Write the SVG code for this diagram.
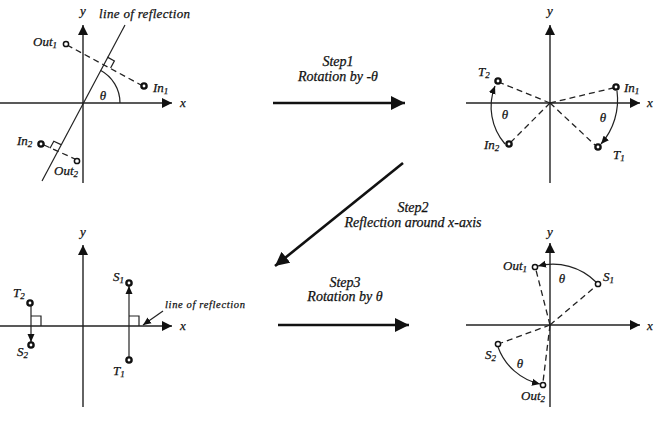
<svg xmlns="http://www.w3.org/2000/svg" width="668" height="424" viewBox="0 0 668 424" font-family="'Liberation Serif', 'DejaVu Serif', serif">
<style>
  text { font-family: 'Liberation Serif', 'DejaVu Serif', serif; font-style: italic; fill: #111; stroke: #111; stroke-width: 0.25; }
  .lbl { font-size: 13px; }
  .stp { font-size: 14px; }
  .sub { font-size: 9px; }
  .ax { stroke: #222; stroke-width: 1.4; fill: none; }
  .dash { stroke: #222; stroke-width: 1.3; stroke-dasharray: 6 4; fill: none; }
  .thin { stroke: #222; stroke-width: 1.2; fill: none; }
  .pt { fill: #fff; stroke: #111; stroke-width: 1.5; }
  .ptb { fill: #fff; stroke: #111; stroke-width: 2.4; }
  .step { stroke: #111; stroke-width: 2.6; fill: none; }
</style>
<defs>
  <marker id="axh" markerUnits="userSpaceOnUse" markerWidth="12" markerHeight="10" refX="10" refY="5" orient="auto">
    <path d="M0,0 L10,5 L0,10 Z" fill="#111"/>
  </marker>
  <marker id="sm" markerUnits="userSpaceOnUse" markerWidth="9" markerHeight="8" refX="8" refY="4" orient="auto">
    <path d="M0,0.5 L8,4 L0,7.5 Z" fill="#111"/>
  </marker>
  <marker id="big" markerUnits="userSpaceOnUse" markerWidth="16" markerHeight="14" refX="14" refY="7" orient="auto">
    <path d="M0,0 L14,7 L0,14 Z" fill="#111"/>
  </marker>
</defs>

<!-- Panel 1: original -->
<g id="panel1">
  <line class="ax" x1="0" y1="103" x2="172" y2="103" marker-end="url(#axh)"/>
  <line class="ax" x1="83" y1="183" x2="83" y2="25" marker-end="url(#axh)"/>
  <text class="lbl" x="83" y="15" text-anchor="middle">y</text>
  <text class="lbl" x="180" y="107">x</text>
  <line class="thin" x1="42" y1="181" x2="125" y2="25"/>
  <text x="99" y="18" font-size="13" textLength="91">line of reflection</text>
  <line class="dash" x1="67" y1="45" x2="141" y2="85"/>
  <path class="thin" d="M107.4,57.1 L114.4,60.9 L110.6,68"/>
  <line class="dash" x1="44" y1="145" x2="75" y2="159"/>
  <path class="thin" d="M61,144.6 L53.8,141.2 L50,148.3"/>
  <path class="thin" d="M120,103 A37,37 0 0 0 100.4,70.3"/>
  <text class="lbl" x="103" y="100" text-anchor="middle">θ</text>
  <circle class="pt" cx="66" cy="44" r="2.6"/>
  <circle class="ptb" cx="144" cy="86" r="2.6"/>
  <circle class="ptb" cx="41" cy="144" r="2.6"/>
  <circle class="pt" cx="77" cy="161" r="2.6"/>
  <text class="lbl" x="33" y="46">Out<tspan class="sub" dy="2">1</tspan></text>
  <text class="lbl" x="153" y="92">In<tspan class="sub" dy="2">1</tspan></text>
  <text class="lbl" x="17" y="145">In<tspan class="sub" dy="2">2</tspan></text>
  <text class="lbl" x="54" y="175">Out<tspan class="sub" dy="2">2</tspan></text>
</g>

<!-- Panel 2: after rotation -->
<g id="panel2">
  <line class="ax" x1="466" y1="103" x2="640" y2="103" marker-end="url(#axh)"/>
  <line class="ax" x1="550" y1="183" x2="550" y2="25" marker-end="url(#axh)"/>
  <text class="lbl" x="550" y="15" text-anchor="middle">y</text>
  <text class="lbl" x="647" y="107">x</text>
  <line class="dash" x1="550" y1="103" x2="613" y2="88"/>
  <line class="dash" x1="550" y1="103" x2="595" y2="145"/>
  <line class="dash" x1="550" y1="103" x2="501" y2="83"/>
  <line class="dash" x1="550" y1="103" x2="511" y2="142"/>
  <path class="thin" d="M617,91 A67,67 0 0 1 601,144" marker-end="url(#sm)"/>
  <path class="thin" d="M505,144 A57,57 0 0 1 495,86" marker-end="url(#sm)"/>
  <circle class="ptb" cx="616" cy="87" r="2.6"/>
  <circle class="ptb" cx="598" cy="147" r="2.6"/>
  <circle class="ptb" cx="498" cy="81" r="2.6"/>
  <circle class="ptb" cx="509" cy="144" r="2.6"/>
  <text class="lbl" x="624" y="92">In<tspan class="sub" dy="2">1</tspan></text>
  <text class="lbl" x="613" y="159">T<tspan class="sub" dy="2">1</tspan></text>
  <text class="lbl" x="478" y="76">T<tspan class="sub" dy="2">2</tspan></text>
  <text class="lbl" x="484" y="149">In<tspan class="sub" dy="2">2</tspan></text>
  <text class="lbl" x="603" y="122" text-anchor="middle">θ</text>
  <text class="lbl" x="505" y="119" text-anchor="middle">θ</text>
</g>

<!-- Panel 3: after reflection -->
<g id="panel3">
  <line class="ax" x1="0" y1="326" x2="172" y2="326" marker-end="url(#axh)"/>
  <line class="ax" x1="83" y1="407" x2="83" y2="245" marker-end="url(#axh)"/>
  <text class="lbl" x="83" y="236" text-anchor="middle">y</text>
  <text class="lbl" x="180" y="330">x</text>
  <line class="thin" x1="129" y1="357" x2="129" y2="286" marker-end="url(#sm)"/>
  <path class="thin" d="M129,316 L139,316 L139,326"/>
  <line class="thin" x1="31" y1="306" x2="31" y2="342" marker-end="url(#sm)"/>
  <path class="thin" d="M31,316 L41,316 L41,326"/>
  <circle class="ptb" cx="129" cy="283" r="2.6"/>
  <circle class="ptb" cx="129" cy="360" r="2.6"/>
  <circle class="ptb" cx="30" cy="303" r="2.6"/>
  <circle class="ptb" cx="31" cy="345" r="2.6"/>
  <text class="lbl" x="113" y="281">S<tspan class="sub" dy="2">1</tspan></text>
  <text class="lbl" x="113" y="375">T<tspan class="sub" dy="2">1</tspan></text>
  <text class="lbl" x="13" y="297">T<tspan class="sub" dy="2">2</tspan></text>
  <text class="lbl" x="17" y="356">S<tspan class="sub" dy="2">2</tspan></text>
  <line class="thin" x1="163" y1="311" x2="143" y2="325" marker-end="url(#sm)"/>
  <text x="165" y="308" font-size="10.5" textLength="80">line of reflection</text>
</g>

<!-- Panel 4: result -->
<g id="panel4">
  <line class="ax" x1="466" y1="325" x2="640" y2="325" marker-end="url(#axh)"/>
  <line class="ax" x1="550" y1="407" x2="550" y2="243" marker-end="url(#axh)"/>
  <text class="lbl" x="550" y="236" text-anchor="middle">y</text>
  <text class="lbl" x="647" y="330">x</text>
  <line class="dash" x1="550" y1="325" x2="596" y2="286"/>
  <line class="dash" x1="550" y1="325" x2="536" y2="270"/>
  <line class="dash" x1="550" y1="325" x2="501" y2="343"/>
  <line class="dash" x1="550" y1="325" x2="543" y2="382"/>
  <path class="thin" d="M596,282 A61,61 0 0 0 538,266" marker-end="url(#sm)"/>
  <path class="thin" d="M498,347 A58,58 0 0 0 540,384" marker-end="url(#sm)"/>
  <circle class="pt" cx="598" cy="284" r="2.6"/>
  <circle class="pt" cx="535" cy="267" r="2.6"/>
  <circle class="pt" cx="498" cy="344" r="2.6"/>
  <circle class="pt" cx="543" cy="385" r="2.6"/>
  <text class="lbl" x="503" y="270">Out<tspan class="sub" dy="2">1</tspan></text>
  <text class="lbl" x="603" y="281">S<tspan class="sub" dy="2">1</tspan></text>
  <text class="lbl" x="485" y="359">S<tspan class="sub" dy="2">2</tspan></text>
  <text class="lbl" x="521" y="400">Out<tspan class="sub" dy="2">2</tspan></text>
  <text class="lbl" x="562" y="283" text-anchor="middle">θ</text>
  <text class="lbl" x="520" y="368" text-anchor="middle">θ</text>
</g>

<!-- Step connectors -->
<g id="connectors">
  <line class="step" x1="273" y1="103" x2="405" y2="103" marker-end="url(#big)"/>
  <line class="step" x1="403" y1="163" x2="275" y2="266" marker-end="url(#big)"/>
  <line class="step" x1="278" y1="325" x2="409" y2="325" marker-end="url(#big)"/>
  <text class="stp" x="338" y="66" text-anchor="middle">Step1</text>
  <text class="stp" x="338" y="81" text-anchor="middle">Rotation by -θ</text>
  <text class="stp" x="413" y="212" text-anchor="middle">Step2</text>
  <text class="stp" x="413" y="227" text-anchor="middle">Reflection around x-axis</text>
  <text class="stp" x="345" y="287" text-anchor="middle">Step3</text>
  <text class="stp" x="345" y="301" text-anchor="middle">Rotation by θ</text>
</g>
</svg>
